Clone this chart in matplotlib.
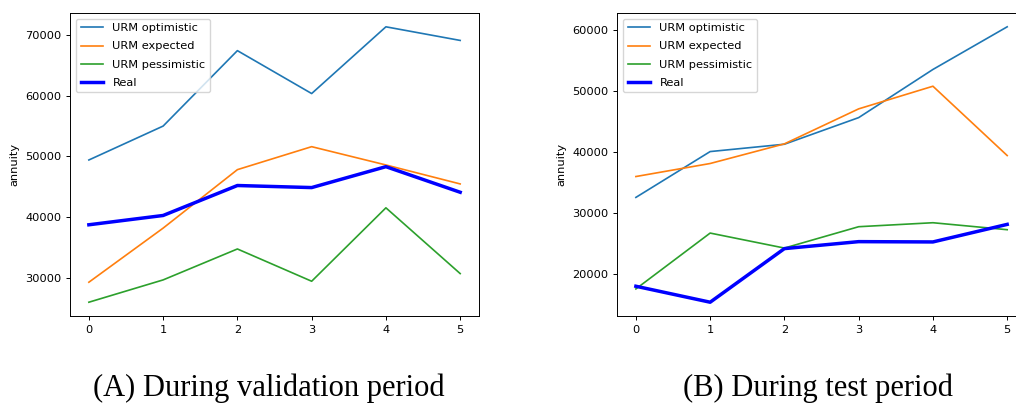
import matplotlib
matplotlib.use("Agg")
import matplotlib.pyplot as plt

years = [0, 1, 2, 3, 4, 5]

# validation period
val_optimistic = [49400, 54980, 67390, 60330, 71310, 69070]
val_expected = [29290, 38190, 47810, 51590, 48580, 45460]
val_pessimistic = [26000, 29670, 34760, 29450, 41530, 30710]
val_real = [38740, 40270, 45200, 44860, 48300, 44090]

# test period
test_optimistic = [32560, 40050, 41250, 45600, 53470, 60440]
test_expected = [35970, 38100, 41310, 47030, 50730, 39400]
test_pessimistic = [17600, 26730, 24280, 27770, 28420, 27280]
test_real = [18040, 15430, 24190, 25330, 25280, 28150]

captions = ["(A) During validation period", "(B) During test period"]

plt.rcParams["font.size"] = 8.2

fig = plt.figure(figsize=(10.16, 4.05), dpi=100)
ax1 = fig.add_axes([0.0692, 0.2198, 0.402, 0.748])
ax2 = fig.add_axes([0.6076, 0.2198, 0.402, 0.748])

def draw(ax, opt, exp, pes, real):
    ax.plot(years, opt, color="tab:blue", lw=1.2, label="URM optimistic")
    ax.plot(years, exp, color="tab:orange", lw=1.2, label="URM expected")
    ax.plot(years, pes, color="tab:green", lw=1.2, label="URM pessimistic")
    ax.plot(years, real, color="blue", lw=2.5, label="Real")
    ax.set_ylabel("annuity")
    ax.legend(loc="upper left", fontsize=8.2, labelspacing=0.72)
    for s in ax.spines.values():
        s.set_linewidth(0.7)
    ax.tick_params(width=0.7, length=3)

draw(ax1, val_optimistic, val_expected, val_pessimistic, val_real)
draw(ax2, test_optimistic, test_expected, test_pessimistic, test_real)

fig.text(0.265, 0.042, captions[0], ha="center", va="center",
         family="Liberation Serif", fontsize=22)
fig.text(0.805, 0.042, captions[1], ha="center", va="center",
         family="Liberation Serif", fontsize=22)

fig.savefig("out.png", dpi=100)
